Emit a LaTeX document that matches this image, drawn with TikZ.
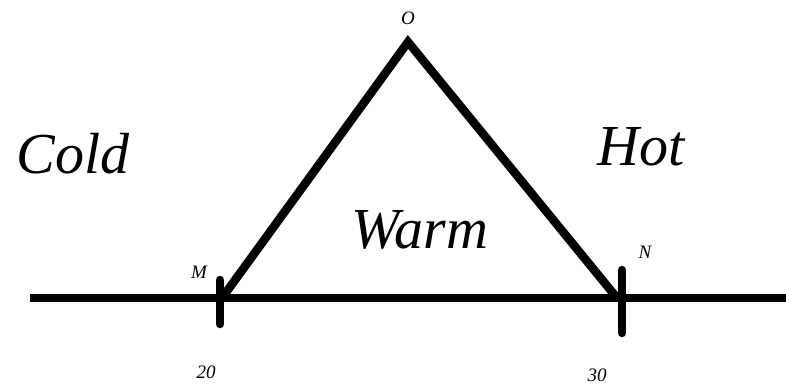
\documentclass[tikz,border=0pt]{standalone}
\usepackage{fontspec}
\setmainfont{Liberation Serif}
\begin{document}
\begin{tikzpicture}[x=1pt,y=-1pt,
  thick line/.style={line width=8.5pt,line cap=round,line join=miter},
  big/.style={font=\fontsize{58}{62}\selectfont\itshape},
  small/.style={font=\fontsize{19}{21}\selectfont\itshape}]
\useasboundingbox (0,0) rectangle (786,385);
\coordinate (L) at (30,298);
\coordinate (R) at (790,298);
\coordinate (M) at (220,298);
\coordinate (N) at (620,298);
\coordinate (O) at (408,42);
\coordinate (Mt) at (220,280);
\coordinate (Mb) at (220,324);
\coordinate (Nt) at (622,270);
\coordinate (Nb) at (622,333);
\draw[thick line,line cap=butt] (L) -- (R);
\draw[thick line] (Mt) -- (Mb);
\draw[thick line] (Nt) -- (Nb);
\draw[thick line,line cap=butt] (222,298) -- (O) -- (617,298);
\node[big] (cold) at (73,154) {Cold};
\node[big] (hot) at (641,147) {Hot};
\node[big] (warm) at (420,230) {Warm};
\node[small] (lo) at (408,18) {O};
\node[small] (lm) at (199,272) {M};
\node[small] (ln) at (645,252) {N};
\node[small] (l20) at (206,372) {20};
\node[small] (l30) at (597,375) {30};
\end{tikzpicture}
\end{document}
